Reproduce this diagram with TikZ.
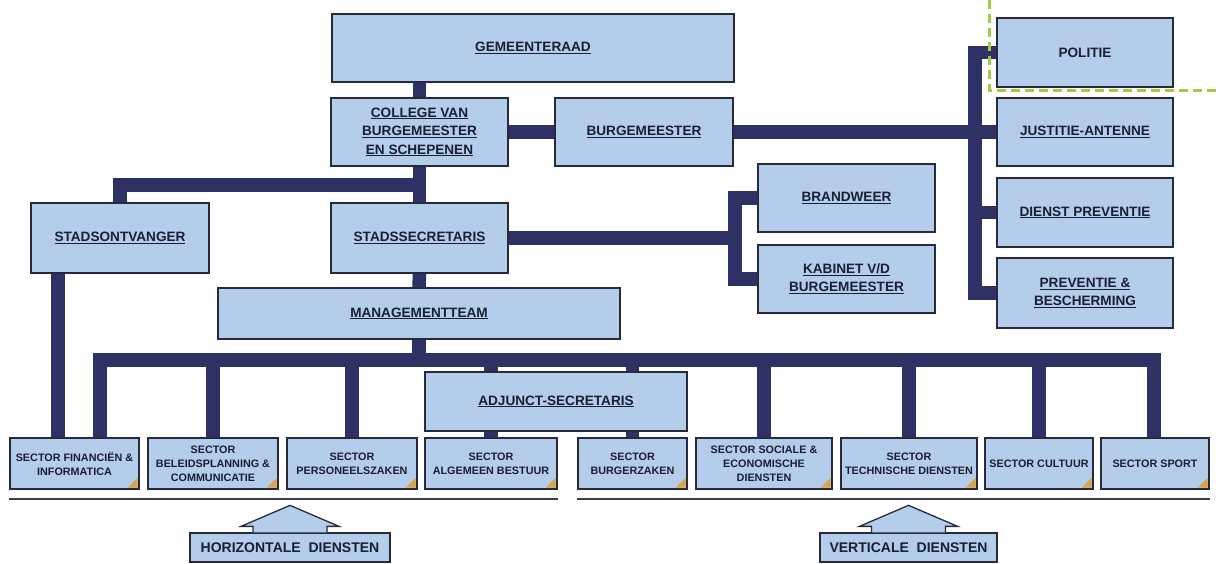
\documentclass[tikz,border=0pt]{standalone}
\usepackage{fontspec}
\setmainfont{Liberation Sans}
\usetikzlibrary{calc}
\pgfdeclarelayer{bg}
\pgfsetlayers{bg,main}
\definecolor{boxfill}{HTML}{B3CDEA}
\definecolor{boxline}{HTML}{262A3A}
\definecolor{connc}{HTML}{2E3163}
\definecolor{txt}{HTML}{1A1F36}
\definecolor{greendash}{HTML}{A3C940}
\definecolor{cornerc}{HTML}{D9A548}
\definecolor{sepc}{HTML}{3A3D4A}
\newcommand\myul[1]{\setbox0\hbox{#1}\rlap{\rule[-2.4pt]{\wd0}{1.1pt}}\box0}
\newcommand\mycorner[1]{\fill[cornerc] ([shift={(-2pt,2pt)}]#1.south east) -- ++(0,-10) -- ++(-10,10) -- cycle;}
\begin{document}
\begin{tikzpicture}[x=1pt,y=-1pt,
  box/.style={draw=boxline, line width=1.3pt, fill=boxfill, inner sep=1pt, align=center, text=txt,
    font=\bfseries\fontsize{13.6}{18.5}\selectfont},
  secbox/.style={box, minimum height=51pt, font=\bfseries\fontsize{10.8}{14}\selectfont},
  labbox/.style={box, minimum height=29pt, font=\bfseries\fontsize{14}{16}\selectfont},
  conn/.style={draw=connc, line width=13.5pt, line join=miter, line cap=butt},
  sepline/.style={draw=sepc, line width=2.2pt},
  blockarrow/.style={draw=boxline, line width=1.3pt, fill=boxfill, line join=miter},
  gdash/.style={draw=greendash, line width=3.5pt, dash pattern=on 9pt off 5pt}
]
\useasboundingbox (0,0) rectangle (1216,564);

% upper boxes
\node[box, minimum width=402pt, minimum height=68pt] (gem) at (533,48) {\myul{GEMEENTERAAD}};
\node[box, minimum width=177pt, minimum height=68pt] (college) at (419.5,132) {\myul{COLLEGE VAN}\\\myul{BURGEMEESTER}\\\myul{EN SCHEPENEN}};
\node[box, minimum width=178pt, minimum height=68pt] (burg) at (644,132) {\myul{BURGEMEESTER}};
\node[box, minimum width=178pt, minimum height=70pt] (stontv) at (120,238) {\myul{STADSONTVANGER}};
\node[box, minimum width=177pt, minimum height=70pt] (stsec) at (419.5,238) {\myul{STADSSECRETARIS}};
\node[box, minimum width=402pt, minimum height=51pt] (mgmt) at (419,313.5) {\myul{MANAGEMENTTEAM}};
\node[box, minimum width=177pt, minimum height=68pt] (brand) at (846.5,198) {\myul{BRANDWEER}};
\node[box, minimum width=177pt, minimum height=68pt] (kab) at (846.5,279) {\myul{KABINET V/D}\\\myul{BURGEMEESTER}};
\node[box, minimum width=176pt, minimum height=69pt] (politie) at (1085,52.5) {POLITIE};
\node[box, minimum width=176pt, minimum height=68pt] (just) at (1085,132) {\myul{JUSTITIE-ANTENNE}};
\node[box, minimum width=176pt, minimum height=69pt] (dienst) at (1085,212.5) {\myul{DIENST PREVENTIE}};
\node[box, minimum width=176pt, minimum height=70pt] (prevb) at (1085,293) {\myul{PREVENTIE \&}\\\myul{BESCHERMING}};
\node[box, minimum width=262pt, minimum height=59pt] (adj) at (556,401.5) {\myul{ADJUNCT-SECRETARIS}};

% sector boxes
\node[secbox, minimum width=129pt] (fin) at (74.5,463.5) {SECTOR FINANCIËN \&\\INFORMATICA};
\node[secbox, minimum width=130pt] (bel) at (213,463.5) {SECTOR\\BELEIDSPLANNING \&\\COMMUNICATIE};
\node[secbox, minimum width=130pt] (pers) at (352,463.5) {SECTOR\\PERSONEELSZAKEN};
\node[secbox, minimum width=132pt] (alg) at (491,463.5) {SECTOR\\ALGEMEEN BESTUUR};
\node[secbox, minimum width=109pt] (bz) at (632.5,463.5) {SECTOR\\BURGERZAKEN};
\node[secbox, minimum width=136pt] (soc) at (764,463.5) {SECTOR SOCIALE \&\\ECONOMISCHE\\DIENSTEN};
\node[secbox, minimum width=136pt] (tech) at (909,463.5) {SECTOR\\TECHNISCHE DIENSTEN};
\node[secbox, minimum width=108pt] (cult) at (1039,463.5) {SECTOR CULTUUR};
\node[secbox, minimum width=108pt] (sport) at (1155,463.5) {SECTOR SPORT};
\foreach \n in {fin,bel,pers,alg,bz,soc,tech,cult,sport}{\mycorner{\n}}

% bottom labels
\node[labbox, minimum width=200pt] (hor) at (290,547.5) {HORIZONTALE\ \ DIENSTEN};
\node[labbox, minimum width=177pt] (vert) at (908.5,547.5) {VERTICALE\ \ DIENSTEN};

% block arrows
\foreach \n in {hor,vert}{
  \draw[blockarrow] ([xshift=-37pt]\n.north) -- ++(0,-6) -- ++(-12,0) -- ++(49,-21) -- ++(49,21) -- ++(-12,0) -- ++(0,6);
}

% separator lines
\draw[sepline] ([yshift=-9pt]fin.south west) -- ([yshift=-9pt]alg.south east);
\draw[sepline] ([yshift=-9pt]bz.south west) -- ([yshift=-9pt]sport.south east);

% green dashed outline
\draw[gdash] ([xshift=-7pt]politie.west |- 0,0) -- ([xshift=-7pt,yshift=-3pt]politie.south west) -- ([yshift=-3pt]politie.south -| 1216,0);

\coordinate (busL) at (100,360);
\coordinate (busR) at (1154,360);
\coordinate (jn) at (419.5,185);
\coordinate (sox) at (58,300);
\coordinate (bk) at (735,240);
\coordinate (rb) at (975,150);

\begin{pgfonlayer}{bg}
  \fill[white] (0,0) rectangle (1216,564);
  \draw[conn] (college.north) -- (college.north |- gem.south);
  \draw[conn] (college.south) -- (stsec.north);
  \draw[conn] (jn) -| (stontv.north);
  \draw[conn] (college.east) -- (burg.west);
  \draw[conn] (burg.east) -- (just.west);
  \draw[conn] (politie.west) -- (politie.west -| rb) -- (prevb.west -| rb) -- (prevb.west);
  \draw[conn] (dienst.west) -- (dienst.west -| rb);
  \draw[conn] (stsec.east) -- (stsec.east -| bk);
  \draw[conn] (brand.west) -- (brand.west -| bk) -- (kab.west -| bk) -- (kab.west);
  \draw[conn] (stsec.south) -- (mgmt.north);
  \draw[conn] (mgmt.south) -- (mgmt.south |- busL);
  \draw[conn] (stontv.south -| sox) -- (fin.north -| sox);
  \draw[conn] (fin.north -| busL) -- (busL) -- (busR) -- (sport.north -| busR);
  \foreach \n in {bel,pers,alg,bz,soc,tech,cult}{
    \draw[conn] (\n.north) -- (\n.north |- busL);
  }
\end{pgfonlayer}
\end{tikzpicture}
\end{document}
